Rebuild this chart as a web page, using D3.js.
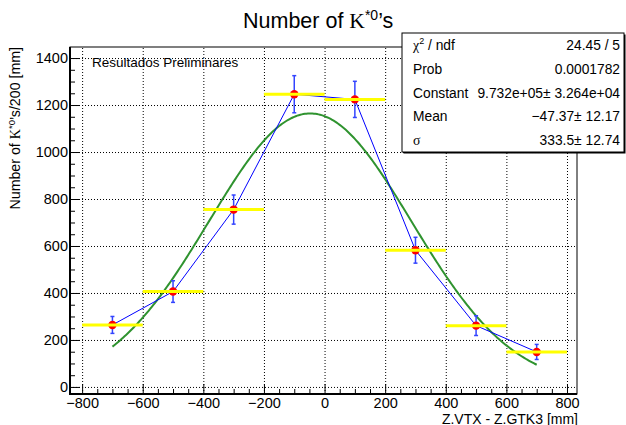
<!DOCTYPE html>
<html>
<head>
<meta charset="utf-8">
<script src="https://cdn.jsdelivr.net/npm/d3@7"></script>
<style>
  body { margin: 0; background: #fff; }
  svg { display: block; font-family: "Liberation Sans", Arial, sans-serif; }
</style>
</head>
<body>
<div id="chart"></div>
<script>
// bin centres, contents and errors
const binCenters = [-700, -500, -300, -100, 100, 300, 500, 700];
const binWidths = [200, 200, 200, 200, 200, 200, 200, 200];
const counts = [264, 406, 755, 1246, 1224, 582, 261, 149];
const errors = [36, 46, 62, 79, 77, 55, 42, 32];

const xTicks = [-800, -600, -400, -200, 0, 200, 400, 600, 800];
const yTicks = [0, 200, 400, 600, 800, 1000, 1200, 1400];

// gaussian fit (parameters from the stats box)
const fitConstant = 9.732e5;
const fitMean = -47.37;
const fitSigma = 333.5;
const fitRange = [-700, 700];

const statLabels = ['χ² / ndf', 'Prob', 'Constant', 'Mean', 'σ'];
const statValues = ['24.45 / 5', '0.0001782', '9.732e+05± 3.264e+04', '−47.37± 12.17', '333.5± 12.74'];

const W = 626, H = 425;
const frame = { left: 70, right: 577, top: 47, bottom: 394 };

const svg = d3.select('#chart').append('svg')
  .attr('width', W).attr('height', H);

const x = d3.scaleLinear().domain([-840, 833]).range([frame.left, frame.right]);
const y = d3.scaleLinear().domain([-30, 1447]).range([frame.bottom, frame.top]);

const plotH = frame.bottom - frame.top;
const plotW = frame.right - frame.left;
const fmt = d3.format('d');

// dotted grid
svg.append('g')
  .attr('transform', `translate(0,${frame.bottom})`)
  .call(d3.axisBottom(x).tickValues(xTicks).tickSize(-plotH).tickFormat(''))
  .call(g => g.select('.domain').remove())
  .selectAll('line').attr('stroke', '#000').attr('stroke-dasharray', '1,2');
svg.append('g')
  .attr('transform', `translate(${frame.left},0)`)
  .call(d3.axisLeft(y).tickValues(yTicks).tickSize(-plotW).tickFormat(''))
  .call(g => g.select('.domain').remove())
  .selectAll('line').attr('stroke', '#000').attr('stroke-dasharray', '1,2');

// minor ticks (inside the frame)
const xMinor = d3.range(-800, 801, 50).filter(v => !xTicks.includes(v));
const yMinor = d3.range(0, 1401, 50).filter(v => !yTicks.includes(v));
svg.append('g')
  .attr('transform', `translate(0,${frame.bottom})`)
  .call(d3.axisBottom(x).tickValues(xMinor).tickSize(-5).tickFormat(''))
  .call(g => g.select('.domain').remove());
svg.append('g')
  .attr('transform', `translate(${frame.left},0)`)
  .call(d3.axisLeft(y).tickValues(yMinor).tickSize(-5).tickFormat(''))
  .call(g => g.select('.domain').remove());

// major ticks with labels
svg.append('g')
  .attr('transform', `translate(0,${frame.bottom})`)
  .call(d3.axisBottom(x).tickValues(xTicks).tickSize(-10).tickPadding(4).tickFormat(v => fmt(v).replace('-', '\u2212')))
  .call(g => g.select('.domain').remove())
  .selectAll('text').attr('font-size', 14.5).attr('font-family', 'Liberation Sans, Arial, sans-serif').attr('fill', '#000');
svg.append('g')
  .attr('transform', `translate(${frame.left},0)`)
  .call(d3.axisLeft(y).tickValues(yTicks).tickSize(-10).tickPadding(2).tickFormat(fmt))
  .call(g => g.select('.domain').remove())
  .selectAll('text').attr('font-size', 14.5).attr('font-family', 'Liberation Sans, Arial, sans-serif').attr('fill', '#000');

// frame
svg.append('rect')
  .attr('x', frame.left).attr('y', frame.top)
  .attr('width', plotW).attr('height', plotH)
  .attr('fill', 'none').attr('stroke', '#000').attr('stroke-width', 1);
svg.append('path')
  .attr('d', `M${frame.left},${frame.top}V${frame.bottom}H${frame.right}`)
  .attr('fill', 'none').attr('stroke', '#000').attr('stroke-width', 2);

const pts = binCenters.map((c, i) => ({ x: c, w: binWidths[i], y: counts[i], e: errors[i] }));

// fit curve
const fitX = d3.range(fitRange[0], fitRange[1] + 0.1, 5);
const gaus = v => fitConstant / (Math.sqrt(2 * Math.PI) * fitSigma) *
  Math.exp(-0.5 * Math.pow((v - fitMean) / fitSigma, 2));
svg.append('path')
  .datum(fitX)
  .attr('d', d3.line().x(v => x(v)).y(v => y(gaus(v))))
  .attr('fill', 'none').attr('stroke', '#2f932f').attr('stroke-width', 2);

// connecting line
svg.append('path')
  .datum(pts)
  .attr('d', d3.line().x(d => x(d.x)).y(d => y(d.y)))
  .attr('fill', 'none').attr('stroke', '#0000ff').attr('stroke-width', 1);

// error bars
const eb = svg.append('g').attr('stroke', '#3344ff').attr('stroke-width', 1.5);
eb.selectAll('line.v').data(pts).join('line')
  .attr('x1', d => x(d.x)).attr('x2', d => x(d.x))
  .attr('y1', d => y(d.y - d.e)).attr('y2', d => y(d.y + d.e));
eb.selectAll('line.t').data(pts).join('line')
  .attr('x1', d => x(d.x) - 2).attr('x2', d => x(d.x) + 2)
  .attr('y1', d => y(d.y + d.e)).attr('y2', d => y(d.y + d.e));
eb.selectAll('line.b').data(pts).join('line')
  .attr('x1', d => x(d.x) - 2).attr('x2', d => x(d.x) + 2)
  .attr('y1', d => y(d.y - d.e)).attr('y2', d => y(d.y - d.e));

// markers
svg.append('g').selectAll('circle').data(pts).join('circle')
  .attr('cx', d => x(d.x)).attr('cy', d => y(d.y)).attr('r', 4.2)
  .attr('fill', '#ff0000');

// bin width bars
svg.append('g').selectAll('line').data(pts).join('line')
  .attr('x1', d => x(d.x - d.w / 2)).attr('x2', d => x(d.x + d.w / 2))
  .attr('y1', d => y(d.y)).attr('y2', d => y(d.y))
  .attr('stroke', '#ffff00').attr('stroke-width', 3);

// text
svg.append('text')
  .attr('x', 92).attr('y', 67)
  .attr('font-size', 13.5)
  .text('Resultados Preliminares');

const title = svg.append('text').attr('x', 243).attr('y', 28).attr('font-size', 21.5);
title.append('tspan').text('Number of ');
title.append('tspan').attr('font-family', 'Liberation Serif, Times, serif').text('K');
title.append('tspan').attr('font-size', 14).attr('dy', -8).text('*0');
title.append('tspan').attr('dy', 8).text('\u2019s');

const yl = svg.append('text')
  .attr('transform', `translate(20,${frame.top}) rotate(-90)`)
  .attr('text-anchor', 'end').attr('font-size', 14.2);
yl.append('tspan').text('Number of ');
yl.append('tspan').attr('font-family', 'Liberation Serif, Times, serif').text('K');
yl.append('tspan').attr('font-size', 9.5).attr('dy', -5.5).text('*0');
yl.append('tspan').attr('dy', 5.5).text('\u2019s/200 [mm]');

svg.append('text')
  .attr('x', 578).attr('y', 423.5)
  .attr('text-anchor', 'end').attr('font-size', 14)
  .text('Z.VTX - Z.GTK3 [mm]');

// stats box
const box = { x: 402, y: 33, w: 222, h: 119 };
svg.append('rect')
  .attr('x', box.x + 1.5).attr('y', box.y + 1.5).attr('width', box.w).attr('height', box.h)
  .attr('fill', '#000');
svg.append('rect')
  .attr('x', box.x).attr('y', box.y).attr('width', box.w).attr('height', box.h)
  .attr('fill', '#fff').attr('stroke', '#000').attr('stroke-width', 1);
const rowH = box.h / statLabels.length;
statLabels.forEach((lab, i) => {
  const by = box.y + rowH * (i + 0.5) + 5;
  const t = svg.append('text').attr('x', box.x + 11).attr('y', by).attr('font-size', 13.8);
  if (i === 0) {
    t.append('tspan').attr('font-family', 'Liberation Serif, Times, serif').text('χ');
    t.append('tspan').attr('font-size', 9).attr('dy', -6).text('2');
    t.append('tspan').attr('dy', 6).text(' / ndf');
  } else if (i === 4) {
    t.attr('font-family', 'Liberation Serif, Times, serif').text(lab);
  } else {
    t.text(lab);
  }
  svg.append('text').attr('x', box.x + box.w - 4).attr('y', by)
    .attr('text-anchor', 'end').attr('font-size', 13.8)
    .text(statValues[i]);
});
</script>
</body>
</html>
